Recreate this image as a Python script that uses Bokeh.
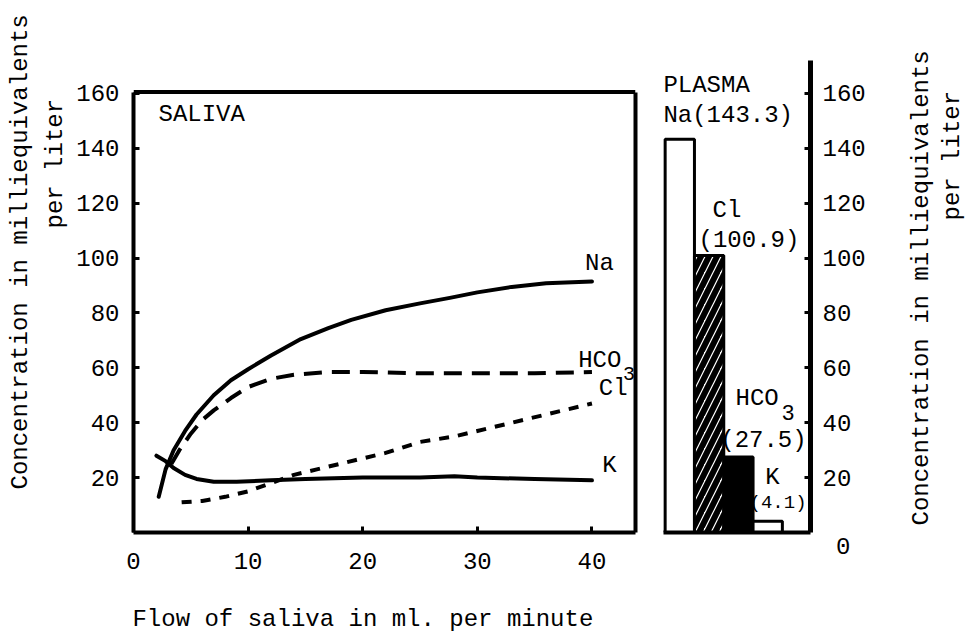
import numpy as np
from bokeh.plotting import figure
from bokeh.models import Range1d, FixedTicker, Label, ColumnDataSource, LinearAxis, Span, Title
from bokeh.layouts import row
from bokeh.embed import file_html
from bokeh.resources import INLINE

FONT = "Liberation Mono"
FS = "24px"

# ---------------- data ----------------
# Saliva (left panel): flow in ml/min vs concentration in mEq/L
na_x = [2.2, 2.8, 3.5, 4.5, 5.5, 7.0, 8.5, 10.0, 12.0, 14.6, 17.0, 19.0, 22.0, 25.0, 27.6, 30.0, 33.0, 36.0, 40.0]
na_y = [13, 23, 30, 37, 43, 50, 55.5, 59.5, 64.5, 70.5, 74.5, 77.5, 81, 83.5, 85.5, 87.5, 89.5, 90.8, 91.5]

hco3_x = [3.3, 4.0, 5.0, 6.0, 7.0, 8.5, 10.0, 12.0, 14.0, 17.0, 20.0, 25.0, 30.0, 35.0, 40.0]
hco3_y = [25, 30, 36, 41, 44.5, 49, 53, 56, 57.5, 58.5, 58.5, 58, 58, 58, 58.5]

cl_x = [4.2, 6, 8, 10, 12, 14, 16, 18, 20, 22, 25, 28, 30, 33, 36, 40]
cl_y = [11, 11.5, 13, 15, 18, 21, 23, 25, 27, 29, 33, 35, 37, 40, 43, 47]

k_x = [2.0, 2.8, 3.5, 4.5, 5.5, 7, 9, 12, 15, 20, 25, 28, 30, 35, 40]
k_y = [28, 26, 23.5, 21, 19.5, 18.5, 18.5, 19, 19.5, 20, 20, 20.5, 20, 19.5, 19]

x_ticks = [0, 10, 20, 30, 40]
y_ticks = [20, 40, 60, 80, 100, 120, 140, 160]
box_top = 160.5

# Plasma (right panel)
plasma_ions = ["Na", "Cl", "HCO3", "K"]
plasma_values = [143.3, 100.9, 27.5, 4.1]
plasma_fill = ["white", "white", "black", "white"]
plasma_hatch = [" ", "/", " ", " "]

Y_END = 172
YLABEL_1 = "Concentration in milliequivalents"
YLABEL_2 = "per liter"
XLABEL = "Flow of saliva in ml. per minute"


def style_labels(ax):
    ax.major_label_text_font = FONT
    ax.major_label_text_font_size = FS
    ax.major_label_text_color = "black"
    ax.axis_label_text_font = FONT
    ax.axis_label_text_font_size = FS
    ax.axis_label_text_font_style = "normal"
    ax.axis_label_text_color = "black"


def side_title(text, offset, standoff=2, align="left"):
    return Title(text=text, align=align, offset=offset, standoff=standoff,
                 text_font=FONT, text_font_size=FS, text_font_style="normal",
                 text_color="black")


def lab(p, text, x, y, size=FS):
    p.add_layout(Label(x=x, y=y, text=text, text_font=FONT, text_font_size=size,
                       text_color="black", text_align="left", text_baseline="middle"))


# ---------------- left panel ----------------
p1 = figure(x_range=Range1d(0, 43.8), y_range=Range1d(0, Y_END),
            frame_width=502, frame_height=472,
            min_border_left=133, min_border_right=5,
            min_border_top=60, min_border_bottom=100,
            toolbar_location=None, output_backend="svg",
            background_fill_color="white", border_fill_color="white")
p1.outline_line_color = None
p1.xgrid.visible = False
p1.ygrid.visible = False

for ax, ticks in ((p1.xaxis[0], x_ticks), (p1.yaxis[0], y_ticks)):
    ax.ticker = FixedTicker(ticks=ticks)
    ax.axis_line_color = "black"
    ax.axis_line_width = 4
    ax.major_tick_in = 6
    ax.major_tick_out = 0
    ax.major_tick_line_width = 3
    ax.minor_tick_line_color = None
    style_labels(ax)
p1.xaxis.major_label_standoff = 20
p1.yaxis.major_label_standoff = 14
p1.yaxis.bounds = (0, box_top)
p1.xaxis.axis_label = XLABEL + "\u00a0" * 3
p1.xaxis.axis_label_standoff = 34

# right border and top border of the saliva box
rb = LinearAxis(ticker=FixedTicker(ticks=[]), axis_line_width=4, bounds=(0, box_top),
                major_tick_out=0, major_tick_in=0, major_label_standoff=0)
p1.add_layout(rb, "right")
p1.add_layout(Span(location=box_top, dimension="width", line_color="black", line_width=4))

p1.line(na_x, na_y, line_color="black", line_width=4, line_join="round", line_cap="round")
p1.line(k_x, k_y, line_color="black", line_width=4, line_join="round", line_cap="round")
p1.line(hco3_x, hco3_y, line_color="black", line_width=4, line_dash="18 10")
p1.line(cl_x, cl_y, line_color="black", line_width=4, line_dash="10 9")

lab(p1, "SALIVA", 2.18, 152.3)
lab(p1, "Na", 39.4, 98.0)
lab(p1, "HCO", 38.8, 62.7)
lab(p1, "3", 42.7, 57.9, size="20px")
lab(p1, "Cl", 40.6, 52.5)
lab(p1, "K", 40.9, 24.4)

p1.add_layout(side_title(YLABEL_2, 304, standoff=10), "left")
p1.add_layout(side_title(YLABEL_1, 43), "left")

# ---------------- right panel ----------------
pos = [i + 1 for i in range(len(plasma_ions))]
src = ColumnDataSource(dict(ion=plasma_ions, value=plasma_values, pos=pos,
                            fill=plasma_fill, hatch=plasma_hatch))

p2 = figure(x_range=Range1d(0, 5.46), y_range=Range1d(0, Y_END),
            frame_width=160, frame_height=472,
            min_border_left=10, min_border_right=60,
            min_border_top=60, min_border_bottom=100,
            y_axis_location="right",
            toolbar_location=None, output_backend="svg",
            background_fill_color="white", border_fill_color="white")
p2.outline_line_color = None
p2.xgrid.visible = False
p2.ygrid.visible = False

p2.vbar(x="pos", top="value", bottom=0, width=1, source=src,
        fill_color="fill", line_color="black", line_width=3,
        hatch_pattern="hatch", hatch_color="black", hatch_weight=6, hatch_scale=16)

xa = p2.xaxis[0]
xa.ticker = FixedTicker(ticks=[])
xa.axis_line_width = 4
xa.axis_line_color = "black"
xa.bounds = (0.45, 5.46)
xa.major_tick_out = 0
xa.major_tick_in = 0
xa.major_label_standoff = 0

ya = p2.yaxis[0]
ya.ticker = FixedTicker(ticks=y_ticks)
ya.axis_line_width = 5
ya.major_tick_in = 6
ya.major_tick_out = 0
ya.major_tick_line_width = 3
ya.minor_tick_line_color = None
ya.major_label_standoff = 12
style_labels(ya)

lab(p2, "PLASMA", 0.44, 162.9)
lab(p2, "Na(143.3)", 0.44, 152.0)
lab(p2, "Cl", 2.12, 117.3)
lab(p2, "(100.9)", 1.64, 106.4)
lab(p2, "HCO", 2.9, 48.8)
lab(p2, "3", 4.47, 43.7, size="22px")
lab(p2, "(27.5)", 2.38, 33.5)
lab(p2, "K", 3.92, 20.0)
lab(p2, "(4.1)", 3.38, 10.6, size="19px")

p2.add_layout(side_title("0", -40, standoff=6, align="right"), "below")

# ---------------- right-hand axis title ----------------
p3 = figure(x_range=Range1d(0, 1), y_range=Range1d(0, Y_END),
            frame_width=2, frame_height=472,
            min_border_left=96, min_border_right=2,
            min_border_top=60, min_border_bottom=100,
            x_axis_location=None, y_axis_location=None,
            toolbar_location=None, output_backend="svg",
            background_fill_color="white", border_fill_color="white")
p3.outline_line_color = None
p3.xgrid.visible = False
p3.ygrid.visible = False
p3.add_layout(side_title(YLABEL_2, 312), "left")
p3.add_layout(side_title(YLABEL_1, 7), "left")

layout = row(p1, p2, p3)
open("out.html", "w").write(file_html(layout, INLINE))
